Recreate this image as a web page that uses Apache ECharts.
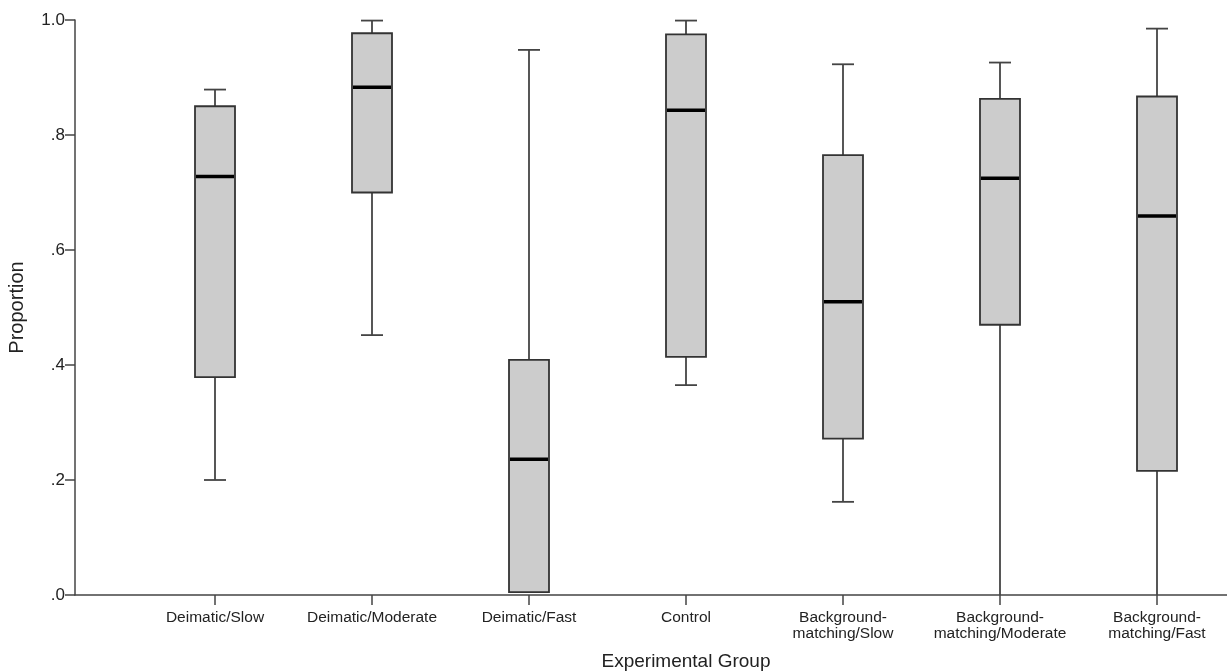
<!DOCTYPE html>
<html>
<head>
<meta charset="utf-8">
<script src="https://cdn.jsdelivr.net/npm/echarts@6/dist/echarts.min.js"></script>
<style>html,body{margin:0;padding:0;background:#fff;}#c{width:1227px;height:671px;}</style>
</head>
<body>
<div id="c"></div>
<script>
var categories = ['Deimatic/Slow','Deimatic/Moderate','Deimatic/Fast','Control','Background-\nmatching/Slow','Background-\nmatching/Moderate','Background-\nmatching/Fast'];
var whiskerLow  = [0.200, 0.452, 0.005, 0.365, 0.162, 0.000, 0.000];
var quartile1   = [0.379, 0.700, 0.005, 0.414, 0.272, 0.470, 0.216];
var medians     = [0.728, 0.883, 0.236, 0.843, 0.510, 0.725, 0.659];
var quartile3   = [0.850, 0.977, 0.409, 0.975, 0.765, 0.863, 0.867];
var whiskerHigh = [0.879, 0.999, 0.948, 0.999, 0.923, 0.926, 0.985];
var yTicks = ['.0', '.2', '.4', '.6', '.8', '1.0'];

var rows = categories.map(function (c, i) {
  return [i, whiskerLow[i], quartile1[i], medians[i], quartile3[i], whiskerHigh[i]];
});

var FONT = 'Liberation Sans, Arial, sans-serif';
var chart = echarts.init(document.getElementById('c'));
chart.setOption({
  animation: false,
  backgroundColor: '#fff',
  grid: [
    {left: 75, right: 0, top: 20, bottom: 76, outerBoundsMode: 'none', containLabel: false},
    {left: 136.5, width: 1099, top: 20, bottom: 76, outerBoundsMode: 'none', containLabel: false}
  ],
  xAxis: [
    {gridIndex: 0, type: 'value', min: 0, max: 1,
     axisLine: {show: true, lineStyle: {color: '#444', width: 1.5}},
     axisTick: {show: false}, axisLabel: {show: false}, splitLine: {show: false}},
    {gridIndex: 1, type: 'category', data: categories,
     name: 'Experimental Group', nameLocation: 'middle', nameGap: 57,
     nameTextStyle: {fontFamily: FONT, fontSize: 19, color: '#222'},
     axisLine: {show: false},
     axisTick: {show: true, alignWithLabel: true, length: 10, lineStyle: {color: '#444', width: 1.5}},
     axisLabel: {interval: 0, fontFamily: FONT, fontSize: 15.5, color: '#222', margin: 15, lineHeight: 16},
     splitLine: {show: false}}
  ],
  yAxis: [
    {gridIndex: 0, type: 'value', min: 0, max: 1, interval: 0.2,
     name: 'Proportion', nameLocation: 'middle', nameGap: 48,
     nameTextStyle: {fontFamily: FONT, fontSize: 20, color: '#222'},
     axisLine: {show: true, lineStyle: {color: '#444', width: 1.5}},
     axisTick: {show: true, length: 10, lineStyle: {color: '#444', width: 1.5}},
     axisLabel: {fontFamily: FONT, fontSize: 17, color: '#222', margin: 10,
       formatter: function (v) { return yTicks[Math.round(v * 5)]; }},
     splitLine: {show: false}},
    {gridIndex: 1, type: 'value', min: 0, max: 1, show: false}
  ],
  series: [{
    type: 'custom',
    xAxisIndex: 1, yAxisIndex: 1,
    data: rows,
    encode: {x: 0, y: [1, 2, 3, 4, 5]},
    renderItem: function (params, api) {
      var x = api.value(0);
      var pLow = api.coord([x, api.value(1)]);
      var pQ1 = api.coord([x, api.value(2)]);
      var pMed = api.coord([x, api.value(3)]);
      var pQ3 = api.coord([x, api.value(4)]);
      var pHigh = api.coord([x, api.value(5)]);
      var cx = pQ1[0];
      var bw = 40, cw = 22;
      var lineStyle = {stroke: '#444', lineWidth: 1.8, fill: null};
      var children = [];
      if (pHigh[1] < pQ3[1] - 0.5) {
        children.push({type: 'line', shape: {x1: cx, y1: pQ3[1], x2: cx, y2: pHigh[1]}, style: lineStyle});
        children.push({type: 'line', shape: {x1: cx - cw / 2, y1: pHigh[1], x2: cx + cw / 2, y2: pHigh[1]}, style: lineStyle});
      }
      if (pLow[1] > pQ1[1] + 0.5) {
        children.push({type: 'line', shape: {x1: cx, y1: pQ1[1], x2: cx, y2: pLow[1]}, style: lineStyle});
        if (api.value(1) > 0) {
          children.push({type: 'line', shape: {x1: cx - cw / 2, y1: pLow[1], x2: cx + cw / 2, y2: pLow[1]}, style: lineStyle});
        }
      }
      children.push({type: 'rect', shape: {x: cx - bw / 2, y: pQ3[1], width: bw, height: pQ1[1] - pQ3[1]},
        style: {fill: '#cccccc', stroke: '#333', lineWidth: 1.8}});
      children.push({type: 'line', shape: {x1: cx - bw / 2 + 1, y1: pMed[1], x2: cx + bw / 2 - 1, y2: pMed[1]},
        style: {stroke: '#000', lineWidth: 3.5}});
      return {type: 'group', children: children};
    }
  }]
});
</script>
</body>
</html>
